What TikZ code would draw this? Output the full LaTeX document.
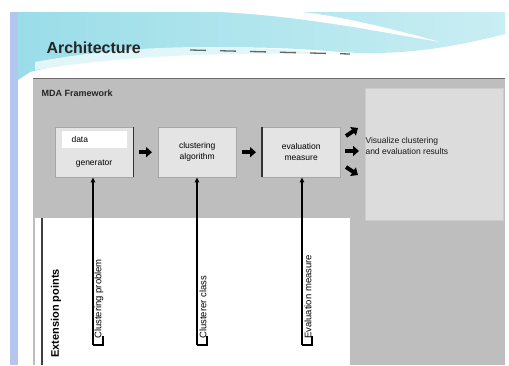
\documentclass[tikz,border=0pt]{standalone}
\usepackage{fontspec}
\setmainfont{Liberation Sans}
\usetikzlibrary{arrows.meta}
\definecolor{panel}{HTML}{BEBEBE}
\definecolor{boxfill}{HTML}{E4E4E4}
\definecolor{vizfill}{HTML}{DCDCDC}
\definecolor{cyanA}{HTML}{9ADDE8}
\definecolor{cyanB}{HTML}{C9EEF3}
\definecolor{stripe}{HTML}{B4C6EE}
\tikzset{
  stepbox/.style={draw=gray!70, fill=boxfill, minimum width=78pt, minimum height=50pt, inner sep=1pt, align=center, font=\fontsize{8.5}{11}\selectfont},
  fatarrow/.style={line width=4pt, -{Triangle[length=6pt,width=10pt]}},
  uparrow/.style={line width=1.2pt, -{Triangle[length=5pt,width=4.5pt]}},
  bracket/.style={line width=1.2pt},
  vlabel/.style={rotate=90, anchor=west, font=\fontsize{9.5}{10}\selectfont, inner sep=0pt}
}
\begin{document}
\begin{tikzpicture}[x=1pt,y=-1pt]
\useasboundingbox (0,0) rectangle (509,365);
\fill[white] (0,0) rectangle (509,365);
% banner
\shade[left color=cyanA, right color=cyanB] (18,12) -- (505,12) -- (505,34) .. controls (450,48) and (400,56) .. (340,52) .. controls (250,44) and (140,44) .. (30,72) -- (18,80) -- cycle;
\fill[white] (220,12) .. controls (300,16) and (370,30) .. (440,42) .. controls (390,28) and (330,14) .. (300,12) -- cycle;
\fill[white!45!cyanB] (35,62) .. controls (120,46) and (220,42) .. (330,54) .. controls (220,52) and (120,56) .. (35,70) -- cycle;
\draw[gray!80!black, line width=1.3pt, dash pattern=on 16pt off 14pt] (190,50) -- (350,54);
\fill[stripe] (10,12) rectangle (18,365);
\node[anchor=west, font=\fontsize{16}{18}\selectfont\bfseries, text=black!85] (title) at (43,48) {Architecture};
% panel
\fill[panel] (33,78) rectangle (505,365);
\draw[gray!85!black, line width=1pt] (33,78.5) -- (505,78.5);
\node[anchor=west, font=\fontsize{9}{10}\selectfont\bfseries, text=black!85] (mda) at (38,93) {MDA Framework};
% right visual box
\node[fill=vizfill, draw=gray!40, minimum width=138pt, minimum height=132pt, anchor=north west, inner sep=0pt] (viz) at (365,88) {};
\node[anchor=west, align=left, font=\fontsize{8.5}{11}\selectfont, text=black!90] (viztext) at (362,146) {Visualize clustering\\and evaluation results};
% white extension area
\fill[white] (35,218) rectangle (350,365);
\draw[black!75, line width=1.3pt] (42,218) -- (42,365);
\node[rotate=90, anchor=west, font=\fontsize{11}{12}\selectfont\bfseries, inner sep=0pt] (ext) at (56,358) {Extension points};
% boxes
\node[stepbox, anchor=north west] (dg) at (55,127) {};
\fill[white] (62,131) rectangle (127,148);
\node[font=\fontsize{8.5}{9}\selectfont, anchor=west] (dgt1) at (68,139.5) {data};
\node[font=\fontsize{8.5}{9}\selectfont, anchor=center] (dgt2) at (94,164) {generator};
\draw[black!80, line width=1.3pt] (dg.north east) -- (dg.south east);
\node[stepbox, anchor=north west] (ca) at (158,127) {clustering\\algorithm};
\node[stepbox, anchor=north west] (em) at (262,127) {evaluation\\measure};
\draw[black!80, line width=1.3pt] (em.north west) -- (em.south west);
% flow arrows
\draw[fatarrow, shorten <=6pt, shorten >=6pt] (dg.east) -- (ca.west);
\draw[fatarrow, shorten <=6pt, shorten >=6pt] (ca.east) -- (em.west);
\coordinate (va) at (358,128);
\coordinate (vb) at (359,151);
\coordinate (vc) at (358,175);
\draw[fatarrow] (346,136) -- (va);
\draw[fatarrow] (345,151) -- (vb);
\draw[fatarrow] (346,167) -- (vc);
% extension brackets
\coordinate (b1) at (93,345);
\coordinate (b2) at (197,345);
\coordinate (b3) at (302,345);
\draw[uparrow] (b1) -- (b1 |- dg.south);
\draw[uparrow] (b2) -- (b2 |- ca.south);
\draw[uparrow] (b3) -- (b3 |- em.south);
\draw[bracket] (b1) -- ++(10,0) -- ++(0,-9);
\draw[bracket] (b2) -- ++(10,0) -- ++(0,-9);
\draw[bracket] (b3) -- ++(10,0) -- ++(0,-9);
\node[vlabel] (l1) at (99,339) {Clustering problem};
\node[vlabel] (l2) at (203,339) {Clusterer class};
\node[vlabel] (l3) at (308,339) {Evaluation measure};
\end{tikzpicture}
\end{document}
